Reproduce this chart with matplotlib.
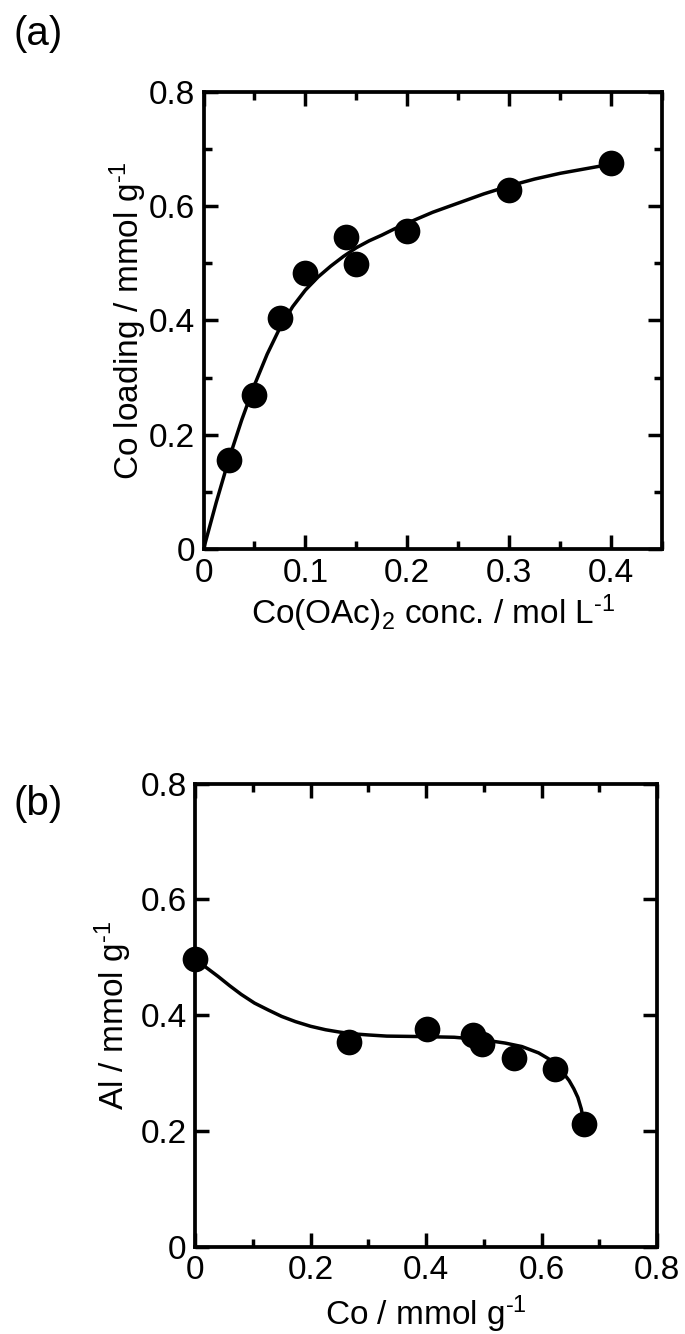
import matplotlib
matplotlib.use("Agg")
import matplotlib.pyplot as plt
from matplotlib.ticker import MultipleLocator

plt.rcParams['font.family'] = ['Liberation Sans', 'DejaVu Sans']
plt.rcParams['mathtext.fontset'] = 'custom'
plt.rcParams['mathtext.rm'] = 'Liberation Sans'
plt.rcParams['mathtext.it'] = 'Liberation Sans:italic'
plt.rcParams['mathtext.bf'] = 'Liberation Sans:bold'

# (a) Co loading vs. Co(OAc)2 concentration
conc = [0.025, 0.05, 0.075, 0.10, 0.14, 0.15, 0.20, 0.30, 0.40]
co_loading = [0.156, 0.269, 0.405, 0.483, 0.546, 0.499, 0.556, 0.627, 0.675]
conc_fit = [0, 0.0125, 0.025, 0.0375, 0.05, 0.0625, 0.075, 0.0875, 0.10,
            0.1125, 0.125, 0.1375, 0.15, 0.1625, 0.175, 0.1875, 0.20,
            0.225, 0.25, 0.275, 0.30, 0.325, 0.35, 0.375, 0.40]
loading_fit = [0, 0.082, 0.158, 0.226, 0.287, 0.341, 0.387, 0.424, 0.453,
               0.476, 0.495, 0.512, 0.527, 0.539, 0.549, 0.560, 0.570,
               0.589, 0.605, 0.621, 0.635, 0.647, 0.657, 0.665, 0.673]
a_xticks = [0, 0.1, 0.2, 0.3, 0.4]
a_xticklabels = ['0', '0.1', '0.2', '0.3', '0.4']
a_yticks = [0, 0.2, 0.4, 0.6, 0.8]
a_yticklabels = ['0', '0.2', '0.4', '0.6', '0.8']

# (b) Al content vs. Co loading
co = [0.0, 0.267, 0.402, 0.481, 0.497, 0.553, 0.624, 0.673]
al = [0.497, 0.354, 0.376, 0.366, 0.351, 0.327, 0.308, 0.212]
co_fit = [0, 0.02, 0.04, 0.06, 0.08, 0.103, 0.127, 0.15, 0.174, 0.2, 0.226,
          0.25, 0.273, 0.3, 0.332, 0.37, 0.402, 0.449, 0.496, 0.537, 0.566,
          0.595, 0.612, 0.625, 0.638, 0.648, 0.656, 0.663, 0.669, 0.673]
al_fit = [0.497, 0.482, 0.467, 0.451, 0.436, 0.421, 0.409, 0.398, 0.389, 0.381,
          0.375, 0.371, 0.368, 0.366, 0.364, 0.3635, 0.363, 0.362, 0.358, 0.352,
          0.346, 0.335, 0.325, 0.314, 0.300, 0.287, 0.273, 0.258, 0.238, 0.215]
b_xticks = [0, 0.2, 0.4, 0.6, 0.8]
b_xticklabels = ['0', '0.2', '0.4', '0.6', '0.8']
b_yticks = [0, 0.2, 0.4, 0.6, 0.8]
b_yticklabels = ['0', '0.2', '0.4', '0.6', '0.8']

W, H = 685, 1334
fig = plt.figure(figsize=(W / 100, H / 100), dpi=100)

def px_axes(left, top, right, bottom):
    return fig.add_axes([left / W, 1 - bottom / H, (right - left) / W, (bottom - top) / H])

ax_a = px_axes(203.5, 91.5, 662, 549.3)
ax_b = px_axes(195, 783.5, 657, 1247)

FS = 24
for ax in (ax_a, ax_b):
    for s in ax.spines.values():
        s.set_linewidth(2.7)
    ax.tick_params(which='both', direction='in', top=True, right=True,
                   width=2.5, labelsize=FS, pad=6)
    ax.tick_params(which='major', length=10)
    ax.tick_params(which='minor', length=6)

# panel (a)
ax_a.plot(conc_fit, loading_fit, color='black', lw=2.5, zorder=2)
ax_a.plot(conc, co_loading, 'o', color='black', ms=18.5, mec='black', mew=0,
          zorder=3, clip_on=False)
ax_a.set_xlim(0, 0.45)
ax_a.set_ylim(0, 0.8)
ax_a.set_xticks(a_xticks, a_xticklabels)
ax_a.set_yticks(a_yticks, a_yticklabels)
ax_a.xaxis.set_minor_locator(MultipleLocator(0.05))
ax_a.yaxis.set_minor_locator(MultipleLocator(0.1))
ax_a.set_xlabel(r'Co(OAc)$_2$ conc. / mol L$^{\text{-}1}$', fontsize=FS)
ax_a.set_ylabel(r'Co loading / mmol g$^{\text{-}1}$', fontsize=FS)
ax_a.xaxis.set_label_coords(0.5, -0.095)
ax_a.yaxis.set_label_coords(-0.118, 0.5)

# panel (b)
ax_b.plot(co_fit, al_fit, color='black', lw=2.5, zorder=2)
ax_b.plot(co, al, 'o', color='black', ms=18.5, mec='black', mew=0,
          zorder=3, clip_on=False)
ax_b.set_xlim(0, 0.8)
ax_b.set_ylim(0, 0.8)
ax_b.set_xticks(b_xticks, b_xticklabels)
ax_b.set_yticks(b_yticks, b_yticklabels)
ax_b.xaxis.set_minor_locator(MultipleLocator(0.1))
ax_b.set_xlabel(r'Co / mmol g$^{\text{-}1}$', fontsize=FS)
ax_b.set_ylabel(r'Al / mmol g$^{\text{-}1}$', fontsize=FS)
ax_b.xaxis.set_label_coords(0.5, -0.1)
ax_b.yaxis.set_label_coords(-0.133, 0.5)

fig.text(13 / W, 1 - 45 / H, '(a)', fontsize=29, ha='left', va='baseline')
fig.text(13 / W, 1 - 815 / H, '(b)', fontsize=29, ha='left', va='baseline')

fig.savefig('out.png', dpi=100)
